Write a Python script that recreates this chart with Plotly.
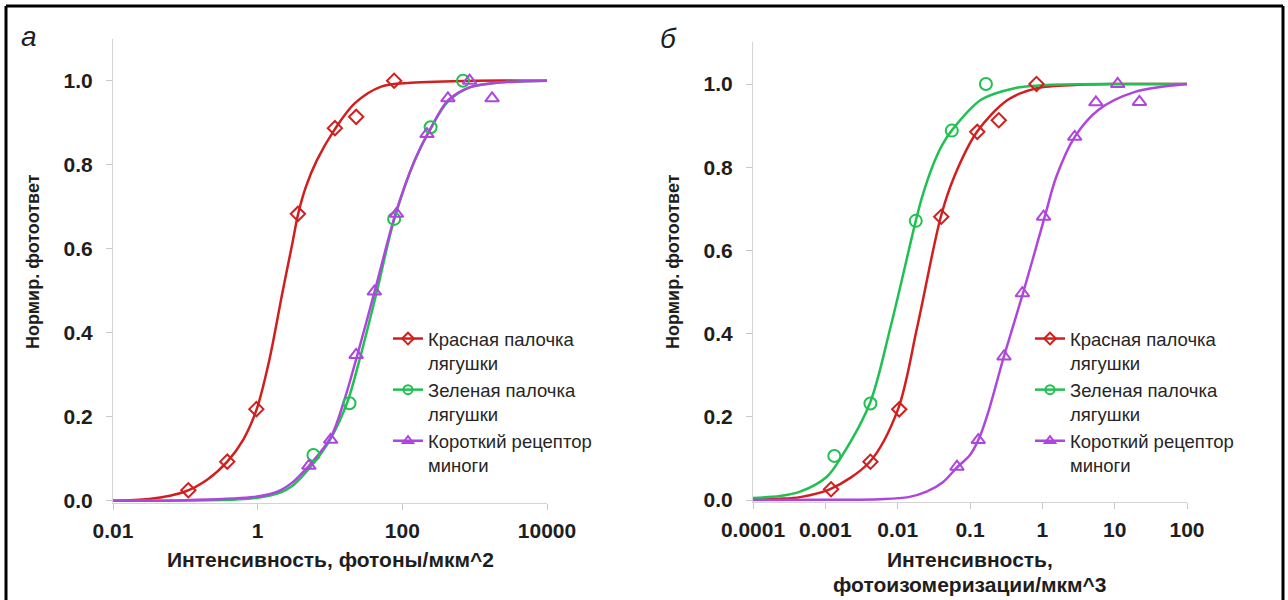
import plotly.graph_objects as go

# ---------------- data ----------------
series_names = ["Красная палочка<br>лягушки", "Зеленая палочка<br>лягушки", "Короткий рецептор<br>миноги"]
colors = ["#d11f1f", "#20c052", "#ae46de"]
symbols = ["diamond-open", "circle-open", "triangle-up-open"]

# Panel a: intensity, photons/um^2
a_red_x = [0.11, 0.38, 0.96, 3.6, 11.7, 23, 77]
a_red_y = [0.025, 0.093, 0.218, 0.683, 0.887, 0.914, 1.0]
a_green_x = [5.9, 18.6, 77, 246, 690]
a_green_y = [0.109, 0.232, 0.671, 0.889, 1.0]
a_purple_x = [5.1, 10.2, 23, 41, 83, 219, 427, 850, 1740]
a_purple_y = [0.083, 0.145, 0.347, 0.498, 0.683, 0.873, 0.958, 1.0, 0.958]

# fitted curves, panel a
a_red_fit_x = [0.01, 0.0316, 0.1, 0.2, 0.38, 0.63, 0.97, 1.45, 2.19, 3.02, 3.63, 4.65, 6.6, 11.5, 21.9, 51, 132, 1000, 10000]
a_red_fit_y = [0.0, 0.004, 0.022, 0.05, 0.093, 0.145, 0.218, 0.335, 0.494, 0.613, 0.683, 0.748, 0.811, 0.883, 0.946, 0.986, 0.995, 1.0, 1.0]
a_green_fit_x = [0.01, 0.1, 0.5, 1.0, 2.09, 3.0, 3.98, 6.31, 10, 17.4, 25.1, 44.7, 76.7, 148, 251, 427, 851, 2000, 10000]
a_green_fit_y = [0.0, 0.0005, 0.003, 0.007, 0.02, 0.035, 0.055, 0.095, 0.145, 0.235, 0.33, 0.5, 0.668, 0.81, 0.889, 0.95, 0.984, 0.995, 1.0]
a_purple_fit_x = [0.01, 0.1, 0.8, 1.5, 2.09, 3.0, 3.98, 5.13, 10.2, 15.8, 23.7, 41.7, 79.4, 148, 251, 427, 851, 2000, 10000]
a_purple_fit_y = [0.0, 0.001, 0.008, 0.016, 0.025, 0.043, 0.063, 0.083, 0.15, 0.24, 0.345, 0.5, 0.68, 0.81, 0.889, 0.953, 0.984, 0.995, 1.0]

# Panel b: intensity, photoisomerizations/um^3
b_red_x = [0.0012, 0.0042, 0.0105, 0.04, 0.126, 0.25, 0.83]
b_red_y = [0.026, 0.092, 0.218, 0.681, 0.885, 0.913, 1.0]
b_green_x = [0.00133, 0.0042, 0.0178, 0.056, 0.166]
b_green_y = [0.106, 0.232, 0.671, 0.888, 1.0]
b_purple_x = [0.066, 0.13, 0.295, 0.53, 1.04, 2.8, 5.5, 11, 22]
b_purple_y = [0.08, 0.144, 0.345, 0.497, 0.681, 0.873, 0.956, 1.0, 0.957]

b_red_fit_x = [0.0001, 0.000237, 0.000447, 0.00117, 0.00412, 0.0101, 0.0187, 0.0395, 0.0605, 0.125, 0.334, 0.834, 3.16, 10, 100]
b_red_fit_y = [0.001, 0.003, 0.007, 0.026, 0.092, 0.218, 0.417, 0.681, 0.777, 0.885, 0.962, 0.99, 0.998, 1.0, 1.0]
b_green_fit_x = [0.0001, 0.000237, 0.000447, 0.00105, 0.0017, 0.00412, 0.008, 0.0178, 0.0219, 0.0316, 0.0417, 0.0557, 0.142, 0.412, 1, 10, 100]
b_green_fit_y = [0.005, 0.0096, 0.02, 0.056, 0.106, 0.232, 0.417, 0.671, 0.73, 0.81, 0.855, 0.888, 0.962, 0.99, 0.997, 1.0, 1.0]
b_purple_fit_x = [0.0001, 0.001, 0.0058, 0.0141, 0.0251, 0.0417, 0.0676, 0.1, 0.135, 0.178, 0.294, 0.54, 1.08, 1.56, 2.81, 5.94, 19.1, 100]
b_purple_fit_y = [0.0, 0.0005, 0.002, 0.007, 0.02, 0.042, 0.08, 0.108, 0.15, 0.21, 0.345, 0.497, 0.681, 0.777, 0.873, 0.9375, 0.981, 1.0]

a_ticks = [0.01, 1, 100, 10000]
a_ticktext = ["0.01", "1", "100", "10000"]
b_ticks = [0.0001, 0.001, 0.01, 0.1, 1, 10, 100]
b_ticktext = ["0.0001", "0.001", "0.01", "0.1", "1", "10", "100"]
y_ticks = [0, 0.2, 0.4, 0.6, 0.8, 1.0]
y_ticktext = ["0.0", "0.2", "0.4", "0.6", "0.8", "1.0"]

# ---------------- figure ----------------
W, H = 1288, 600
fig = go.Figure()

panels = [
    ("x", "y", "legend",
     [(a_red_fit_x, a_red_fit_y, a_red_x, a_red_y),
      (a_green_fit_x, a_green_fit_y, a_green_x, a_green_y),
      (a_purple_fit_x, a_purple_fit_y, a_purple_x, a_purple_y)]),
    ("x2", "y2", "legend2",
     [(b_red_fit_x, b_red_fit_y, b_red_x, b_red_y),
      (b_green_fit_x, b_green_fit_y, b_green_x, b_green_y),
      (b_purple_fit_x, b_purple_fit_y, b_purple_x, b_purple_y)]),
]
msizes = [11, 12, 12]
for xa, ya, lg, sets in panels:
    for i, (fx, fy, px, py) in enumerate(sets):
        fig.add_trace(go.Scatter(x=fx, y=fy, mode="lines", xaxis=xa, yaxis=ya,
                                 line=dict(color=colors[i], width=2.5, shape="spline", smoothing=0.9),
                                 showlegend=False, hoverinfo="skip"))
    for i, (fx, fy, px, py) in enumerate(sets):
        fig.add_trace(go.Scatter(x=px, y=py, mode="markers", xaxis=xa, yaxis=ya,
                                 marker=dict(symbol=symbols[i], size=msizes[i], color=colors[i],
                                             line=dict(color=colors[i], width=2)),
                                 cliponaxis=False, showlegend=False))
    for i in range(3):
        fig.add_trace(go.Scatter(x=[None], y=[None], mode="lines+markers", xaxis=xa, yaxis=ya,
                                 name=series_names[i], legend=lg,
                                 line=dict(color=colors[i], width=2.5),
                                 marker=dict(symbol=symbols[i], size=9, color=colors[i],
                                             line=dict(color=colors[i], width=2))))

FONT = "Liberation Sans, Arial, sans-serif"
tickfont = dict(family=FONT, size=21, color="#1e1e1e", weight="bold")
axis_common = dict(showgrid=False, zeroline=False, showline=True, linecolor="#d4d4d4", linewidth=1,
                   ticks="outside", ticklen=6, tickcolor="#c8c8c8", tickwidth=1, tickfont=tickfont,
                   automargin=False)

def px_x(p):
    return p / W

def px_y(p):
    return 1 - p / H

legend_common = dict(xanchor="left", yanchor="top", valign="top", bgcolor="rgba(0,0,0,0)",
                     itemwidth=30, tracegroupgap=0,
                     font=dict(family=FONT, size=18.5, color="#262626"))

fig.update_layout(
    width=W, height=H,
    margin=dict(l=0, r=0, t=0, b=0, pad=0, autoexpand=False),
    paper_bgcolor="white", plot_bgcolor="white",
    xaxis=dict(type="log", range=[-2, 4], domain=[px_x(113), px_x(547)], anchor="y",
               tickvals=a_ticks, ticktext=a_ticktext, ticklabelstandoff=3, **axis_common),
    yaxis=dict(range=[-0.005, 1.1], domain=[px_y(502.8), px_y(38.7)], anchor="x",
               tickvals=y_ticks, ticktext=y_ticktext, ticklabelstandoff=9, **axis_common),
    xaxis2=dict(type="log", range=[-4, 2], domain=[px_x(753), px_x(1187)], anchor="y2",
                tickvals=b_ticks, ticktext=b_ticktext, ticklabelstandoff=3, **axis_common),
    yaxis2=dict(range=[-0.005, 1.1], domain=[px_y(502.1), px_y(42.4)], anchor="x2",
                tickvals=y_ticks, ticktext=y_ticktext, ticklabelstandoff=9, **axis_common),
    legend=dict(x=px_x(388), y=px_y(320), **legend_common),
    legend2=dict(x=px_x(1030), y=px_y(320), **legend_common),
    showlegend=True,
)

title_font = dict(family=FONT, size=21, color="#1e1e1e", weight="bold")
ann = [
    dict(text="Нормир. фотоответ", x=px_x(33), y=px_y(262), textangle=-90, font=dict(title_font, size=18)),
    dict(text="Нормир. фотоответ", x=px_x(673), y=px_y(262), textangle=-90, font=dict(title_font, size=18)),
    dict(text="Интенсивность, фотоны/мкм^2", x=px_x(330), y=px_y(559), font=title_font),
    dict(text="Интенсивность,", x=px_x(970), y=px_y(559), font=title_font),
    dict(text="фотоизомеризации/мкм^3", x=px_x(970), y=px_y(584), font=title_font),
    dict(text="а", x=px_x(29), y=px_y(36),
         font=dict(family=FONT, size=28, color="#1e1e1e", style="italic")),
    dict(text="б", x=px_x(668), y=px_y(38),
         font=dict(family=FONT, size=28, color="#1e1e1e", style="italic")),
]
for a in ann:
    fig.add_annotation(xref="paper", yref="paper", showarrow=False, xanchor="center", yanchor="middle", **a)

# frame: left, top and right edges (bottom edge lies outside the picture)
border = dict(color="black", width=3)
fig.add_shape(type="line", xref="paper", yref="paper", x0=px_x(6), x1=px_x(6), y0=0, y1=px_y(6), line=border)
fig.add_shape(type="line", xref="paper", yref="paper", x0=px_x(6), x1=px_x(1283), y0=px_y(6), y1=px_y(6), line=border)
fig.add_shape(type="line", xref="paper", yref="paper", x0=px_x(1283), x1=px_x(1283), y0=0, y1=px_y(6), line=border)

fig.write_html("out.html")
